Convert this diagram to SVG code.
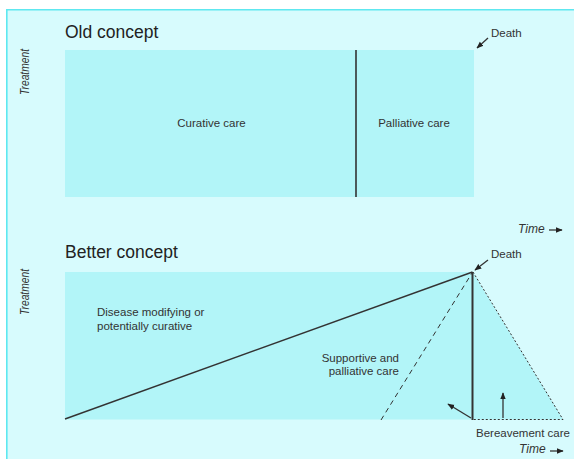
<svg xmlns="http://www.w3.org/2000/svg" width="574" height="459" viewBox="0 0 574 459">
<defs>
<style>
.t{font-family:"Liberation Sans",Arial,sans-serif;fill:#333;}
.title{font-size:17.5px;fill:#222;}
.lbl{font-size:11.5px;}
.ax{font-size:12px;font-style:italic;}
.vax{font-size:13px;font-style:italic;}
.box{fill:#b2f5f8;}
.ln{stroke:#333;fill:none;}
</style>
<marker id="ah" viewBox="0 0 10 10" refX="9" refY="5" markerWidth="7" markerHeight="7" markerUnits="userSpaceOnUse" orient="auto">
<path d="M0,1 L10,5 L0,9 Z" fill="#222"/>
</marker>
</defs>
<rect x="0" y="0" width="574" height="459" fill="#ffffff"/>
<rect x="6" y="9" width="570" height="452" fill="#d7fbfd"/>
<path d="M6.8,461 V9.8 H574" stroke="#5ee8f0" stroke-width="1.6" fill="none"/>

<g id="old-concept">
<text class="t title" x="65" y="38">Old concept</text>
<text class="t vax" transform="translate(29,72) rotate(-90)" text-anchor="middle" textLength="46" lengthAdjust="spacingAndGlyphs">Treatment</text>
<rect class="box" x="65" y="50" width="409" height="147"/>
<text class="t lbl" x="211.5" y="127" text-anchor="middle">Curative care</text>
<text class="t lbl" x="414" y="127" text-anchor="middle">Palliative care</text>
<text class="t lbl" x="491" y="37">Death</text>
<text class="t ax" x="518" y="233">Time</text>
</g>

<g id="better-concept">
<text class="t title" x="65" y="258">Better concept</text>
<text class="t vax" transform="translate(29,292) rotate(-90)" text-anchor="middle" textLength="46" lengthAdjust="spacingAndGlyphs">Treatment</text>
<rect class="box" x="65" y="272" width="407.5" height="147.5"/>
<path class="box" d="M472.5,272 L563,419.5 L472.5,419.5 Z"/>
<text class="t lbl" x="97" y="316">Disease modifying or</text>
<text class="t lbl" x="97" y="330">potentially curative</text>
<text class="t lbl" x="399" y="362" text-anchor="end">Supportive and</text>
<text class="t lbl" x="399" y="375" text-anchor="end">palliative care</text>
<text class="t lbl" x="491" y="258">Death</text>
<text class="t lbl" x="476" y="437">Bereavement care</text>
<text class="t ax" x="519" y="453">Time</text>
</g>

<g id="connectors">
<line class="ln" x1="356" y1="50" x2="356" y2="197" stroke-width="1.6"/>
<line class="ln" x1="488" y1="38" x2="477" y2="48" stroke-width="1.3" marker-end="url(#ah)"/>
<line class="ln" x1="549" y1="230" x2="562" y2="230" stroke-width="1.3" marker-end="url(#ah)"/>
<line class="ln" x1="65" y1="419" x2="472.5" y2="272" stroke-width="1.4"/>
<line class="ln" x1="472.5" y1="272" x2="472.5" y2="420" stroke-width="2"/>
<line class="ln" x1="381" y1="420" x2="472" y2="273" stroke-width="1" stroke-dasharray="5,4" stroke="#555"/>
<path class="ln" d="M473,272 L563,419.5 L473,419.5" stroke-width="1" stroke-dasharray="2,2" stroke="#555"/>
<line class="ln" x1="488" y1="260" x2="475" y2="270" stroke-width="1.3" marker-end="url(#ah)"/>
<line class="ln" x1="471" y1="418" x2="448" y2="404" stroke-width="1.3" marker-end="url(#ah)"/>
<line class="ln" x1="503" y1="418" x2="503" y2="393" stroke-width="1.3" marker-end="url(#ah)"/>
<line class="ln" x1="550" y1="451" x2="563" y2="451" stroke-width="1.3" marker-end="url(#ah)"/>
</g>
</svg>
